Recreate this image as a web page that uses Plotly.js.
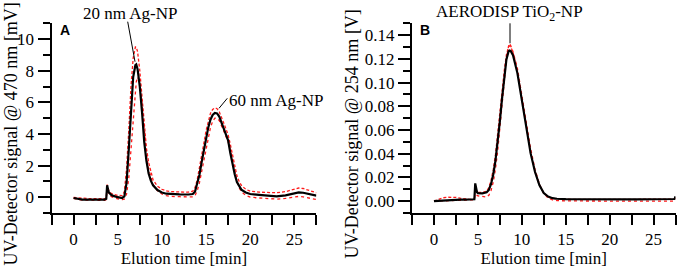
<!DOCTYPE html>
<html>
<head>
<meta charset="utf-8">
<script src="https://cdn.plot.ly/plotly-3.0.1.min.js"></script>
<style>html,body{margin:0;padding:0;background:#fff}#chart{width:680px;height:269px}</style>
</head>
<body>
<div id="chart"></div>
<script>
// ---- Panel A: 20 nm + 60 nm Ag-NP (470 nm) ----
const timeA = [0, 0.5, 1, 1.5, 2, 2.5, 3, 3.5, 3.7, 3.8, 3.9, 4.0, 4.25, 4.5, 5.0, 5.5, 5.75, 6.0, 6.25, 6.5, 6.75, 7.0, 7.1, 7.25, 7.5, 7.75, 8.0, 8.25, 8.5, 8.75, 9.0, 9.5, 10, 10.5, 11, 12, 13, 13.5, 13.75, 14, 14.25, 14.5, 14.75, 15, 15.25, 15.5, 15.75, 16, 16.25, 16.5, 17, 17.5, 17.75, 18, 18.25, 18.5, 18.75, 19, 19.5, 20, 21, 22, 23, 24, 25, 25.5, 26, 26.5, 27, 27.5];
const meanA = [-0.05, -0.12, -0.15, -0.15, -0.16, -0.16, -0.16, -0.16, -0.1, 0.75, 0.5, 0.3, 0.15, 0.08, 0.0, -0.05, 0.05, 0.9, 3.0, 5.6, 7.6, 8.35, 8.4, 8.1, 7.0, 5.4, 3.5, 2.3, 1.5, 1.05, 0.75, 0.45, 0.3, 0.22, 0.2, 0.18, 0.17, 0.2, 0.35, 0.8, 1.4, 2.2, 3.0, 3.8, 4.4, 4.9, 5.2, 5.33, 5.3, 5.1, 4.3, 3.6, 2.8, 2.1, 1.45, 0.95, 0.68, 0.48, 0.3, 0.2, 0.15, 0.08, 0.05, 0.12, 0.25, 0.3, 0.28, 0.22, 0.15, 0.1];
const upperA = [-0.02, -0.05, -0.08, -0.08, -0.1, -0.1, -0.1, -0.1, -0.05, 0.8, 0.6, 0.4, 0.25, 0.18, 0.12, 0.1, 0.35, 1.8, 4.2, 7.0, 8.8, 9.5, 9.5, 9.2, 8.0, 6.3, 4.5, 3.1, 2.2, 1.55, 1.1, 0.7, 0.5, 0.4, 0.36, 0.33, 0.32, 0.38, 0.6, 1.1, 1.8, 2.6, 3.4, 4.2, 4.8, 5.3, 5.55, 5.65, 5.6, 5.4, 4.7, 3.95, 3.35, 2.6, 1.9, 1.35, 1.0, 0.75, 0.5, 0.38, 0.32, 0.28, 0.28, 0.35, 0.5, 0.58, 0.55, 0.45, 0.35, 0.28];
const lowerA = [-0.08, -0.15, -0.18, -0.18, -0.2, -0.2, -0.2, -0.2, -0.15, 0.6, 0.4, 0.2, 0.05, -0.02, -0.1, -0.15, -0.12, 0.2, 1.2, 3.0, 5.0, 6.8, 7.3, 7.6, 7.3, 5.9, 4.2, 2.8, 1.8, 1.2, 0.8, 0.4, 0.2, 0.1, 0.05, 0.03, 0.02, 0.02, 0.1, 0.4, 0.9, 1.6, 2.4, 3.2, 3.9, 4.4, 4.8, 5.0, 5.0, 4.85, 4.2, 3.5, 3.0, 2.3, 1.6, 1.0, 0.6, 0.35, 0.12, 0.0, -0.05, -0.1, -0.12, -0.08, 0.0, 0.05, 0.02, -0.05, -0.12, -0.15];

// ---- Panel B: AERODISP TiO2-NP (254 nm) ----
const timeB = [0, 0.5, 1, 1.5, 2, 2.5, 3, 3.5, 4, 4.5, 4.6, 4.7, 4.8, 4.9, 5.0, 5.5, 6.0, 6.25, 6.5, 6.75, 7.0, 7.25, 7.5, 7.75, 8.0, 8.25, 8.5, 8.6, 8.75, 9.0, 9.5, 10.0, 10.5, 11.0, 11.5, 12.0, 12.5, 13.0, 13.5, 14, 15, 17, 19, 21, 23, 25, 27, 27.4, 27.5];
const meanB = [0.0, 0.0003, 0.0006, 0.0008, 0.001, 0.0011, 0.0012, 0.0013, 0.0014, 0.0015, 0.0016, 0.015, 0.0105, 0.0075, 0.0068, 0.0066, 0.0075, 0.0095, 0.0145, 0.0225, 0.034, 0.049, 0.067, 0.0865, 0.1055, 0.1195, 0.1265, 0.127, 0.1265, 0.123, 0.108, 0.0855, 0.0615, 0.0405, 0.0248, 0.0135, 0.0068, 0.0038, 0.0025, 0.002, 0.0017, 0.0015, 0.0014, 0.0014, 0.0015, 0.0016, 0.0017, 0.0018, 0.004];
const upperB = [0.0, 0.0015, 0.0028, 0.0033, 0.0034, 0.0032, 0.0025, 0.0018, 0.0015, 0.0015, 0.0016, 0.012, 0.0095, 0.008, 0.0075, 0.0072, 0.0085, 0.0115, 0.0175, 0.0265, 0.039, 0.055, 0.073, 0.092, 0.11, 0.1235, 0.1305, 0.131, 0.13, 0.1255, 0.11, 0.087, 0.0625, 0.041, 0.025, 0.0135, 0.0068, 0.0035, 0.0022, 0.0018, 0.0016, 0.0015, 0.0014, 0.0014, 0.0015, 0.0016, 0.0017, 0.0018, 0.0035];
const lowerB = [0.0, 0.0002, 0.0004, 0.0006, 0.0007, 0.0008, 0.0009, 0.001, 0.001, 0.001, 0.001, 0.006, 0.0055, 0.005, 0.0045, 0.004, 0.0035, 0.005, 0.009, 0.016, 0.027, 0.042, 0.06, 0.081, 0.102, 0.12, 0.131, 0.133, 0.131, 0.126, 0.112, 0.09, 0.066, 0.0445, 0.027, 0.0145, 0.0065, 0.0025, 0.001, 0.0005, 0.0002, 0.0, 0.0, 0.0, 0.0, 0.0, 0.0, 0.0, 0.0];

// ---- Text ----
const xTitle = 'Elution time [min]';
const yTitleA = 'UV-Detector signal @ 470 nm [mV]';
const yTitleB = 'UV-Detector signal @ 254 nm [V]';
const panelLabels = ['A', 'B'];
const peakLabels = ['20 nm Ag-NP', '60 nm Ag-NP', 'AERODISP TiO<sub>2</sub>-NP'];

const serif = 'Liberation Serif, Times New Roman, serif';
const red = '#ff1a1a';
const FS = 17;

function traces(x, m, u, l, xa, ya) {
  return [
    {x: x, y: u, xaxis: xa, yaxis: ya, mode: 'lines', line: {color: red, width: 1.3, dash: '3px,2px'}, hoverinfo: 'skip'},
    {x: x, y: l, xaxis: xa, yaxis: ya, mode: 'lines', line: {color: red, width: 1.3, dash: 'dot'}, hoverinfo: 'skip'},
    {x: x, y: m, xaxis: xa, yaxis: ya, mode: 'lines', line: {color: '#000', width: 2.2}, hoverinfo: 'skip'}
  ];
}

const data = [].concat(
  traces(timeA, meanA, upperA, lowerA, 'x', 'y'),
  traces(timeB, meanB, upperB, lowerB, 'x2', 'y2')
);

function xax(domain, anchor) {
  return {
    domain: domain, anchor: anchor, range: [-2.5, 27.5], tick0: 0, dtick: 5,
    showgrid: false, zeroline: false, showline: true, linecolor: '#000', linewidth: 2,
    ticks: 'outside', ticklen: 10, tickwidth: 2, tickcolor: '#000',
    minor: {dtick: 2.5, tick0: 0, ticks: 'outside', ticklen: 10, tickwidth: 2, tickcolor: '#000', showgrid: false},
    tickfont: {family: serif, size: FS, color: '#000'},
    title: {text: xTitle, font: {family: serif, size: FS, color: '#000'}, standoff: 4},
    automargin: false
  };
}
function yax(domain, anchor, range, dtick, minorD, fmt) {
  return {
    domain: domain, anchor: anchor, range: range, tick0: 0, dtick: dtick, tickformat: fmt,
    showgrid: false, zeroline: false, showline: true, linecolor: '#000', linewidth: 2,
    ticks: 'outside', ticklen: 12, tickwidth: 2, tickcolor: '#000',
    minor: {dtick: minorD, tick0: 0, ticks: 'outside', ticklen: 7, tickwidth: 2, tickcolor: '#000', showgrid: false},
    tickfont: {family: serif, size: FS, color: '#000'},
    automargin: false
  };
}

const yDom = [56/269, 1 - 23.3/269];
const sans = 'Liberation Sans, Arial, sans-serif';
const layout = {
  width: 680, height: 269,
  margin: {l: 0, r: 0, t: 0, b: 0},
  paper_bgcolor: '#fff', plot_bgcolor: 'rgba(0,0,0,0)',
  showlegend: false,
  xaxis: xax([51.5/680, 316.4/680], 'y'),
  yaxis: yax(yDom, 'x', [-1, 11], 2, 1, ''),
  xaxis2: xax([412/680, 675.5/680], 'y2'),
  yaxis2: yax(yDom, 'x2', [-0.01, 0.15], 0.02, 0.01, '.2f'),
  annotations: [
    {xref: 'paper', yref: 'paper', x: 10.5/680, y: 1 - 134/269, text: yTitleA, textangle: -90, showarrow: false, xanchor: 'center', yanchor: 'middle', font: {family: serif, size: 18, color: '#000'}},
    {xref: 'paper', yref: 'paper', x: 351.5/680, y: 1 - 134/269, text: yTitleB, textangle: -90, showarrow: false, xanchor: 'center', yanchor: 'middle', font: {family: serif, size: 18, color: '#000'}},
    {xref: 'paper', yref: 'paper', x: 64.7/680, y: 1 - 30/269, text: '<b>' + panelLabels[0] + '</b>', showarrow: false, xanchor: 'center', yanchor: 'middle', font: {family: sans, size: 14, color: '#000'}},
    {xref: 'paper', yref: 'paper', x: 424.7/680, y: 1 - 30/269, text: '<b>' + panelLabels[1] + '</b>', showarrow: false, xanchor: 'center', yanchor: 'middle', font: {family: sans, size: 14, color: '#000'}},
    {xref: 'paper', yref: 'paper', x: 129.7/680, y: 1 - 13.3/269, text: peakLabels[0], showarrow: false, xanchor: 'center', yanchor: 'middle', font: {family: serif, size: FS, color: '#000'}},
    {xref: 'paper', yref: 'paper', x: 227.5/680, y: 1 - 100/269, text: peakLabels[1], showarrow: false, xanchor: 'left', yanchor: 'middle', borderpad: 0, font: {family: serif, size: FS, color: '#000'}},
    {xref: 'paper', yref: 'paper', x: 509/680, y: 1 - 12.7/269, text: peakLabels[2], showarrow: false, xanchor: 'center', yanchor: 'middle', font: {family: serif, size: FS, color: '#000'}}
  ],
  shapes: [
    {type: 'line', xref: 'paper', yref: 'paper', x0: 127.7/680, y0: 1 - 21.7/269, x1: 135/680, y1: 1 - 61.7/269, line: {color: '#000', width: 1}},
    {type: 'line', xref: 'paper', yref: 'paper', x0: 227.3/680, y0: 1 - 98.3/269, x1: 219/680, y1: 1 - 108.3/269, line: {color: '#000', width: 1}},
    {type: 'line', xref: 'paper', yref: 'paper', x0: 510/680, y0: 1 - 23.3/269, x1: 510/680, y1: 1 - 43.3/269, line: {color: '#000', width: 1}}
  ]
};

Plotly.newPlot('chart', data, layout, {staticPlot: true, displayModeBar: false});
</script>
</body>
</html>
